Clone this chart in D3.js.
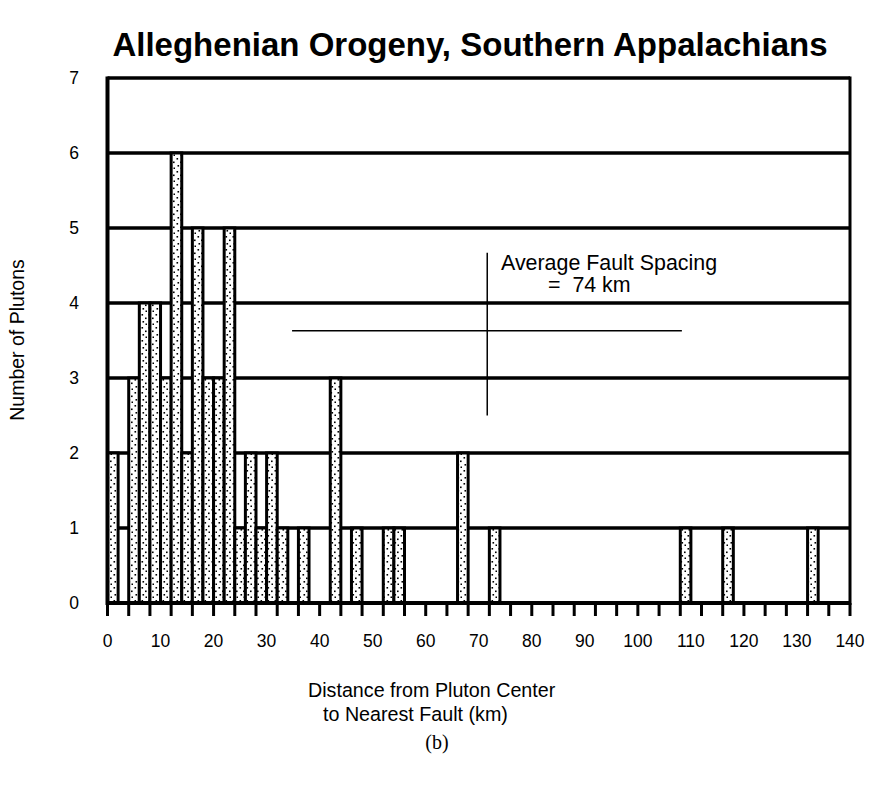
<!DOCTYPE html>
<html>
<head>
<meta charset="utf-8">
<script src="https://cdnjs.cloudflare.com/ajax/libs/d3/7.8.5/d3.min.js"></script>
<style>
  body { margin: 0; background: #fff; }
  svg text { font-family: "Liberation Sans", Arial, sans-serif; fill: #000; }
</style>
</head>
<body>
<svg id="chart" width="869" height="791"></svg>
<script>
// histogramme : 2 km par classe, de 0 a 140 km
var binStarts = d3.range(0, 140, 2);
var counts = [
  2, 0, 3, 4, 4, 3, 6, 2, 5, 3,
  3, 5, 1, 2, 1, 2, 1, 0, 1, 0,
  0, 3, 0, 1, 0, 0, 1, 1, 0, 0,
  0, 0, 0, 2, 0, 0, 1, 0, 0, 0,
  0, 0, 0, 0, 0, 0, 0, 0, 0, 0,
  0, 0, 0, 0, 1, 0, 0, 0, 1, 0,
  0, 0, 0, 0, 0, 0, 1, 0, 0, 0
];
var xLabels = d3.range(0, 141, 10);
var xMinorTicks = d3.range(0, 141, 4);
var yLabels = d3.range(0, 8);

// repere "Average Fault Spacing" (en km / nombre de plutons)
var spacingMark = 71.6;
var spacingRange = [34.8, 108.3];
var spacingLevel = 3.63;
var spacingVert = [2.5, 4.67];

var svg = d3.select("#chart");

var x = d3.scaleLinear().domain([0, 140]).range([107.5, 850]);
var y = d3.scaleLinear().domain([0, 7]).range([603, 78]);

// motif pointille pour les barres
var defs = svg.append("defs");
var pat = defs.append("pattern")
  .attr("id", "stipple")
  .attr("patternUnits", "userSpaceOnUse")
  .attr("width", 7)
  .attr("height", 13);
pat.append("rect").attr("width", 7).attr("height", 13).attr("fill", "#fff");
[[1.5, 2], [5, 5.5], [2.5, 9], [5.5, 11.5]].forEach(function (p) {
  pat.append("rect")
    .attr("x", p[0]).attr("y", p[1])
    .attr("width", 1.6).attr("height", 1.6)
    .attr("fill", "#000");
});

// lignes horizontales epaisses a chaque niveau
svg.append("g")
  .selectAll("line")
  .data(yLabels.slice(1))
  .enter()
  .append("line")
  .attr("x1", x(0))
  .attr("x2", x(140))
  .attr("y1", function (d) { return y(d); })
  .attr("y2", function (d) { return y(d); })
  .attr("stroke", "#000")
  .attr("stroke-width", 3.5);

// barres
var bins = binStarts.map(function (b, i) {
  return { x0: b, x1: b + 2, n: counts[i] };
}).filter(function (d) { return d.n > 0; });

svg.append("g")
  .selectAll("rect")
  .data(bins)
  .enter()
  .append("rect")
  .attr("x", function (d) { return x(d.x0); })
  .attr("y", function (d) { return y(d.n); })
  .attr("width", function (d) { return x(d.x1) - x(d.x0); })
  .attr("height", function (d) { return y(0) - y(d.n); })
  .attr("fill", "url(#stipple)")
  .attr("stroke", "#000")
  .attr("stroke-width", 3);

// cadre : axe gauche, bord droit, base
svg.append("line")
  .attr("x1", x(0)).attr("x2", x(0))
  .attr("y1", y(7) - 1.5).attr("y2", y(0) + 2)
  .attr("stroke", "#000").attr("stroke-width", 4);
svg.append("line")
  .attr("x1", x(140)).attr("x2", x(140))
  .attr("y1", y(7) - 1.5).attr("y2", y(0) + 2)
  .attr("stroke", "#000").attr("stroke-width", 3);
svg.append("line")
  .attr("x1", x(0)).attr("x2", x(140))
  .attr("y1", y(0)).attr("y2", y(0))
  .attr("stroke", "#000").attr("stroke-width", 4);

// petites graduations tous les 4 km
svg.append("g")
  .selectAll("line")
  .data(xMinorTicks)
  .enter()
  .append("line")
  .attr("x1", function (d) { return x(d); })
  .attr("x2", function (d) { return x(d); })
  .attr("y1", y(0))
  .attr("y2", y(0) + 13)
  .attr("stroke", "#000")
  .attr("stroke-width", 3);

// etiquettes des axes
svg.append("g")
  .selectAll("text")
  .data(xLabels)
  .enter()
  .append("text")
  .attr("x", function (d) { return x(d); })
  .attr("y", 647)
  .attr("text-anchor", "middle")
  .attr("font-size", 17.5)
  .text(function (d) { return d; });

svg.append("g")
  .selectAll("text")
  .data(yLabels)
  .enter()
  .append("text")
  .attr("x", 74)
  .attr("y", function (d) { return y(d) + 6; })
  .attr("text-anchor", "middle")
  .attr("font-size", 17.5)
  .text(function (d) { return d; });

svg.append("text")
  .attr("transform", "translate(24,340) rotate(-90)")
  .attr("text-anchor", "middle")
  .attr("font-size", 19.5)
  .text("Number of Plutons");

svg.append("text")
  .attr("x", 308).attr("y", 697)
  .attr("font-size", 19.7)
  .text("Distance from Pluton Center");
svg.append("text")
  .attr("x", 323).attr("y", 721)
  .attr("font-size", 19.7)
  .text("to Nearest Fault (km)");

// titre
svg.append("text")
  .attr("x", 470).attr("y", 56)
  .attr("text-anchor", "middle")
  .attr("font-size", 33)
  .attr("font-weight", "bold")
  .text("Alleghenian Orogeny, Southern Appalachians");

// repere de l'espacement moyen
svg.append("line")
  .attr("x1", x(spacingRange[0])).attr("x2", x(spacingRange[1]))
  .attr("y1", y(spacingLevel)).attr("y2", y(spacingLevel))
  .attr("stroke", "#000").attr("stroke-width", 1.5);
svg.append("line")
  .attr("x1", x(spacingMark)).attr("x2", x(spacingMark))
  .attr("y1", y(spacingVert[0])).attr("y2", y(spacingVert[1]))
  .attr("stroke", "#000").attr("stroke-width", 1.5);

svg.append("text")
  .attr("x", 501).attr("y", 270)
  .attr("font-size", 21.4)
  .text("Average Fault Spacing");
svg.append("text")
  .attr("x", 548).attr("y", 292)
  .attr("font-size", 21.4)
  .attr("xml:space", "preserve")
  .text("=  74 km");

svg.append("text")
  .attr("x", 437).attr("y", 749)
  .attr("text-anchor", "middle")
  .attr("font-size", 20)
  .style("font-family", "'Liberation Serif', 'Times New Roman', serif")
  .text("(b)");
</script>
</body>
</html>
